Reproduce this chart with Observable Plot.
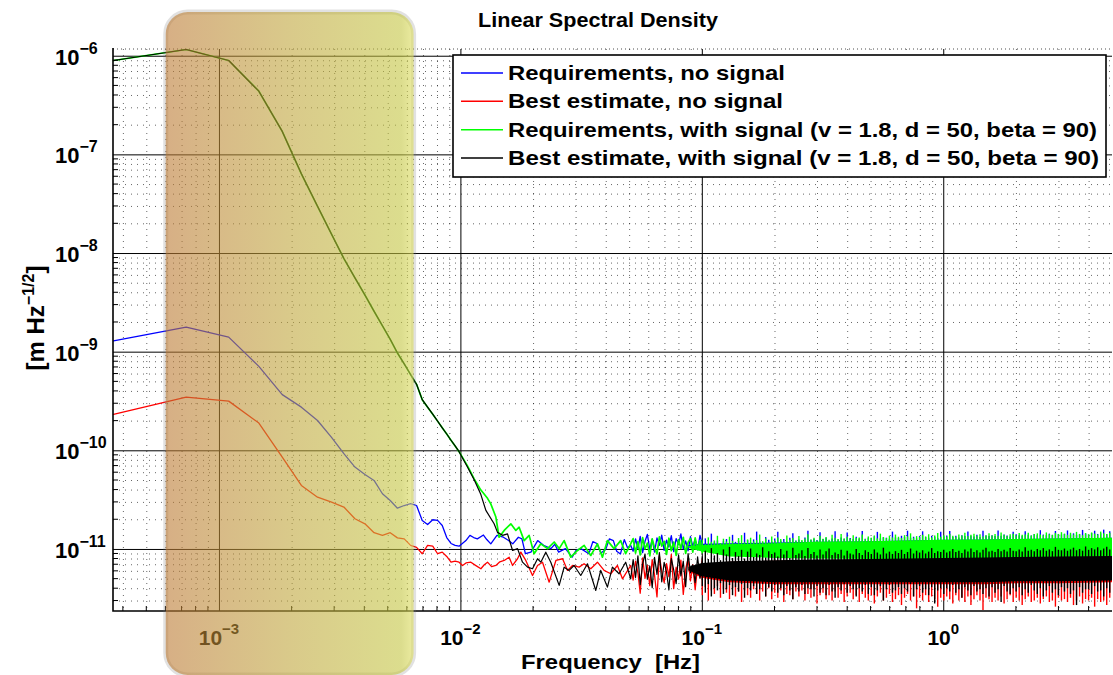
<!DOCTYPE html>
<html>
<head>
<meta charset="utf-8">
<script src="https://cdn.jsdelivr.net/npm/d3@7"></script>
<script src="https://cdn.jsdelivr.net/npm/@observablehq/plot@0.6"></script>
<style>
  html, body { margin: 0; padding: 0; background: #fff; }
  #chart svg { display: block; }
</style>
</head>
<body>
<div id="chart"></div>
<script>
const FONT = "'Liberation Sans', Arial, Helvetica, sans-serif";
const PM = 1e-12; // spectral values below are given in units of 1e-12 m Hz^-1/2

// Series names and colours
const seriesNames = [
  "Requirements, no signal",
  "Best estimate, no signal",
  "Requirements, with signal (v = 1.8, d = 50, beta = 90)",
  "Best estimate, with signal (v = 1.8, d = 50, beta = 90)"
];
const seriesColors = ["#0000ff", "#ff0000", "#00ff00", "#000000"];

// Axis tick decades
const xDecades = [-3, -2, -1, 0];
const yDecades = [-11, -10, -9, -8, -7, -6];

// Highlighted frequency band (Hz)
const shadeBand = {from: 6.02e-4, to: 6.4e-3};

// Lowest FFT bins (Hz)
const binHz = [0.000364, 0.000728, 0.001092, 0.001456, 0.00182, 0.002184, 0.002548, 0.002912, 0.003276,
  0.00364, 0.004004, 0.004368, 0.004732, 0.005096, 0.00546, 0.005824, 0.006188, 0.006552, 0.006916,
  0.00728, 0.007644, 0.008008, 0.008372, 0.008736, 0.0091, 0.009464, 0.009828];

// Low-frequency values on those bins
const reqNoSigLow = [1300, 1790, 1420, 718, 371, 277, 203, 137, 93.5, 68.4, 57.6, 50.1, 36.7, 31.4, 26.2,
  27.9, 29.1, 27.9, 19.7, 17.9, 20.0, 19.7, 17.5, 13.2, 11.5, 11.0, 10.8];
const bestNoSigLow = [234, 350, 319, 191, 86.1, 44.6, 33.9, 30.2, 26.9, 20.5, 18.2, 14.8, 13.9, 14.8, 13.1,
  12.8, 11.0, 10.5, 9.05, 11.0, 10.8, 9.05, 9.4, 8.5, 7.43, 7.6, 7.43];
const withSigLow = [905000, 1170000, 905000, 442000, 173000, 64300, 30100, 15700, 8890, 5670, 3800, 2600,
  1850, 1350, 980, 760, 593, 472, 330, 277, 235, 200, 171, 148, 128, 112, 98];

// 0.01 – 0.05 Hz: [Hz, value]
const reqNoSigMid = [[0.01049, 12.3], [0.0109, 13.9], [0.0113, 13.2], [0.0117, 12.8], [0.0124, 14.0],
  [0.0128, 12.6], [0.0133, 11.4], [0.0141, 13.9], [0.0150, 13.3], [0.0157, 12.4], [0.0164, 11.4],
  [0.0173, 13.3], [0.0179, 12.8], [0.0185, 9.05], [0.0195, 9.4], [0.0208, 12.3], [0.0220, 11.0],
  [0.0236, 10.2], [0.0245, 11.3], [0.0254, 9.4], [0.0271, 10.2], [0.0289, 8.35], [0.0300, 9.8],
  [0.0314, 10.2], [0.0339, 9.05], [0.0352, 12.0], [0.0366, 11.5], [0.0380, 9.2], [0.0398, 10.0],
  [0.0412, 12.8], [0.0428, 12.3], [0.0442, 9.6], [0.0458, 9.0], [0.0475, 12.6], [0.0490, 10.4], [0.0505, 11.0]];
const bestNoSigMid = [[0.01016, 6.88], [0.0105, 7.3], [0.0110, 7.43], [0.0115, 6.9], [0.0121, 6.37],
  [0.0125, 7.0], [0.01289, 7.43], [0.0134, 6.7], [0.01396, 6.88], [0.0145, 7.5], [0.01511, 7.74],
  [0.01584, 8.35], [0.01637, 6.88], [0.01716, 8.05], [0.01771, 9.39], [0.01857, 7.74], [0.0198, 5.45],
  [0.02077, 6.88], [0.02178, 7.43], [0.02321, 4.66], [0.02475, 7.74], [0.02637, 8.05], [0.02765, 6.13],
  [0.02899, 6.88], [0.03088, 6.62], [0.03238, 7.16], [0.03451, 6.37], [0.03678, 7.43], [0.03919, 6.13],
  [0.04176, 5.67], [0.0445, 6.88], [0.04668, 5.04], [0.0505, 6.88]];
const reqSigMid = [[0.01066, 70], [0.01135, 52], [0.0121, 40], [0.01289, 33], [0.0133, 29], [0.01396, 21.3],
  [0.0144, 13.3], [0.01511, 15.6], [0.0161, 18.2], [0.01689, 15.6], [0.01743, 16.8], [0.01828, 12.3],
  [0.01917, 13.9], [0.0201, 9.05], [0.02143, 11.4], [0.02285, 10.2], [0.02435, 11.9], [0.02553, 10.2],
  [0.02677, 12.3], [0.02852, 8.35], [0.03041, 9.77], [0.0324, 11.0], [0.03451, 8.69], [0.03678, 11.4],
  [0.03857, 8.35], [0.04045, 12.3], [0.0431, 10.2], [0.0459, 12.3], [0.04814, 9.05], [0.0505, 11.4]];
const bestSigMid = [[0.01066, 68], [0.01135, 51], [0.0121, 36], [0.01269, 24.9], [0.01373, 18.2],
  [0.01418, 14.9], [0.01488, 13.9], [0.0156, 14.4], [0.01637, 9.77], [0.01716, 10.2], [0.018, 7.43],
  [0.01888, 6.62], [0.0198, 6.37], [0.02077, 8.05], [0.02143, 7.43], [0.02247, 9.39], [0.02357, 7.43],
  [0.02553, 4.32], [0.02677, 6.62], [0.02807, 6.13], [0.02943, 6.88], [0.03137, 5.45], [0.03344, 7.16],
  [0.0362, 3.84], [0.03795, 6.13], [0.04045, 4.15], [0.04242, 6.62], [0.0452, 5.67], [0.04814, 7.43], [0.0505, 5.04]];

// 0.05 – 0.1 Hz: fast wiggles, one value per listed frequency
const wiggleHz = [0.0517, 0.0529, 0.0541, 0.0553, 0.0566, 0.0579, 0.0592, 0.0606, 0.062, 0.0634,
  0.0649, 0.0664, 0.0679, 0.0695, 0.0711, 0.0727, 0.0744, 0.0761, 0.0779, 0.0797,
  0.0815, 0.0834, 0.0853, 0.0873, 0.0893, 0.0913, 0.0934, 0.0956, 0.0978, 0.1];
const reqNoSigWiggle = [9.6, 12.8, 10.2, 13.6, 9.3, 12.1, 14.2, 10.0, 12.7, 9.4, 13.1, 11.0, 14.0, 9.8, 12.4,
  10.6, 13.8, 9.5, 12.9, 11.2, 14.4, 10.1, 12.2, 9.7, 13.5, 10.8, 12.6, 9.9, 13.9, 11.3];
const bestNoSigWiggle = [4.9, 7.6, 5.8, 3.6, 8.2, 5.1, 6.9, 4.3, 7.9, 5.5, 3.3, 8.6, 6.0, 4.6, 7.2,
  5.3, 8.9, 4.0, 6.6, 5.0, 7.8, 3.5, 6.3, 8.1, 4.8, 7.0, 3.9, 6.7, 5.2, 8.0];
const reqSigWiggle = [12.9, 9.2, 12.0, 8.8, 13.2, 10.1, 11.6, 8.6, 12.8, 10.4, 9.0, 13.4, 10.8, 12.1, 8.9,
  13.0, 9.7, 11.9, 8.7, 12.6, 10.2, 13.3, 9.1, 11.8, 12.9, 9.4, 13.1, 10.0, 12.3, 9.3];
const bestSigWiggle = [7.9, 5.2, 8.6, 4.4, 7.1, 9.0, 5.0, 6.8, 4.1, 8.3, 5.6, 9.3, 4.7, 7.4, 5.9,
  3.9, 8.1, 6.2, 4.5, 8.8, 5.4, 7.6, 4.2, 9.1, 5.8, 7.0, 4.6, 8.4, 5.1, 7.7];

// Above ~0.09 Hz the spectra are dense: a solid core band per series ...
const coreHz = [0.088, 0.1, 0.13, 0.2, 0.3, 0.5, 0.7, 1, 1.5, 2, 3, 5];
const reqNoSigCoreLo = [10.6, 9.8, 9.2, 9.0, 9.0, 9.0, 9.0, 9.2, 9.3, 9.4, 9.5, 9.6];
const reqNoSigCoreHi = [11.0, 11.3, 11.4, 11.6, 11.8, 12.0, 12.2, 12.4, 12.5, 12.6, 12.8, 13.0];
const bestNoSigCoreLo = [5.9, 5.1, 4.6, 4.4, 4.4, 4.4, 4.4, 4.4, 4.4, 4.5, 4.5, 4.6];
const bestNoSigCoreHi = [6.3, 7.0, 7.4, 7.6, 7.7, 7.8, 7.9, 8.0, 8.1, 8.2, 8.3, 8.4];
const reqSigCoreLo = [10.2, 9.4, 8.4, 8.1, 8.0, 7.9, 7.8, 7.8, 7.8, 7.8, 7.9, 8.0];
const reqSigCoreHi = [10.7, 11.0, 11.2, 11.4, 11.8, 12.0, 12.2, 12.4, 12.5, 12.6, 12.8, 13.0];
const bestSigCoreLo = [6.1, 5.3, 4.8, 4.6, 4.6, 4.6, 4.6, 4.6, 4.6, 4.7, 4.7, 4.8];
const bestSigCoreHi = [6.6, 7.2, 7.5, 7.7, 7.8, 7.9, 8.0, 8.1, 8.2, 8.3, 8.4, 8.5];

// ... plus the spike extremes sticking out of it (80 samples per decade, 0.1 – 4.87 Hz)
const denseHz = [
  0.1, 0.1029, 0.1059, 0.109, 0.1122, 0.1155, 0.1189, 0.1223,
  0.1259, 0.1296, 0.1334, 0.1372, 0.1413, 0.1454, 0.1496, 0.154,
  0.1585, 0.1631, 0.1679, 0.1728, 0.1778, 0.183, 0.1884, 0.1939,
  0.1995, 0.2054, 0.2113, 0.2175, 0.2239, 0.2304, 0.2371, 0.2441,
  0.2512, 0.2585, 0.2661, 0.2738, 0.2818, 0.2901, 0.2985, 0.3073,
  0.3162, 0.3255, 0.335, 0.3447, 0.3548, 0.3652, 0.3758, 0.3868,
  0.3981, 0.4097, 0.4217, 0.434, 0.4467, 0.4597, 0.4732, 0.487,
  0.5012, 0.5158, 0.5309, 0.5464, 0.5623, 0.5788, 0.5957, 0.6131,
  0.631, 0.6494, 0.6683, 0.6879, 0.7079, 0.7286, 0.7499, 0.7718,
  0.7943, 0.8175, 0.8414, 0.866, 0.8913, 0.9173, 0.9441, 0.9716,
  1.0, 1.029, 1.059, 1.09, 1.122, 1.155, 1.189, 1.223,
  1.259, 1.296, 1.334, 1.372, 1.413, 1.454, 1.496, 1.54,
  1.585, 1.631, 1.679, 1.728, 1.778, 1.83, 1.884, 1.939,
  1.995, 2.054, 2.113, 2.175, 2.239, 2.304, 2.371, 2.441,
  2.512, 2.585, 2.661, 2.738, 2.818, 2.901, 2.985, 3.073,
  3.162, 3.255, 3.35, 3.447, 3.548, 3.652, 3.758, 3.868,
  3.981, 4.097, 4.217, 4.34, 4.467, 4.597, 4.732, 4.87];
const reqNoSigPeaks = [
  11.5, 12.8, 11.0, 14.3, 11.9, 12.2, 11.4, 12.0,
  12.6, 11.3, 13.9, 11.8, 12.1, 11.5, 14.6, 12.3,
  11.7, 12.5, 15.0, 12.0, 11.6, 13.2, 12.4, 11.9,
  12.8, 14.9, 12.1, 12.6, 11.9, 13.0, 14.4, 12.2,
  12.5, 12.0, 13.1, 15.3, 12.4, 12.7, 12.3, 14.8,
  12.6, 13.0, 12.2, 12.8, 15.1, 12.5, 13.1, 12.7,
  14.7, 12.9, 12.6, 13.3, 12.8, 15.2, 12.7, 13.0,
  12.9, 13.4, 14.9, 12.8, 13.1, 13.0, 12.7, 15.0,
  13.1, 12.9, 13.6, 13.2, 15.3, 13.0, 13.3, 12.8,
  13.5, 15.1, 13.2, 13.0, 13.6, 13.3, 12.9, 14.9,
  13.4, 13.7, 15.2, 13.3, 13.6, 13.1, 13.8, 13.5,
  15.0, 13.6, 13.4, 13.9, 13.2, 15.3, 13.7, 13.5,
  13.8, 13.5, 15.4, 13.6, 14.0, 13.7, 13.4, 14.9,
  14.1, 13.8, 13.6, 15.1, 13.9, 13.7, 14.2, 13.8,
  15.5, 14.0, 13.8, 14.3, 13.9, 15.2, 14.1, 14.0,
  14.2, 15.4, 14.0, 14.4, 13.9, 14.1, 15.6, 14.3,
  14.0, 14.5, 15.3, 14.2, 14.4, 15.7, 14.1, 15.1];
const reqSigPeaks = [
  12.4, 11.2, 13.1, 11.8, 12.2, 13.6, 11.5, 12.7,
  11.9, 13.3, 12.1, 11.4, 12.9, 13.8, 11.7, 12.5,
  13.0, 11.9, 12.3, 14.0, 12.0, 12.8, 11.6, 13.4,
  12.2, 13.1, 12.6, 11.8, 13.7, 12.4, 12.9, 12.1,
  13.5, 12.3, 12.8, 14.1, 12.5, 13.0, 12.2, 13.6,
  12.7, 13.2, 12.4, 13.9, 12.9, 12.6, 14.2, 12.8,
  13.3, 12.7, 13.8, 12.9, 13.1, 14.0, 12.6, 13.4,
  13.0, 13.7, 12.8, 14.3, 13.2, 12.9, 13.6, 13.1,
  14.0, 13.3, 12.9, 13.8, 13.4, 14.4, 13.0, 13.5,
  13.2, 13.9, 13.4, 14.1, 13.1, 13.7, 14.5, 13.3,
  13.8, 13.4, 14.2, 13.6, 13.3, 14.0, 13.7, 14.6,
  13.5, 13.9, 14.3, 13.6, 14.1, 13.4, 13.8, 14.4,
  13.7, 14.2, 13.6, 14.7, 13.9, 13.5, 14.1, 14.3,
  13.8, 14.5, 13.9, 14.0, 14.6, 13.7, 14.2, 14.4,
  14.0, 13.8, 14.7, 14.1, 13.9, 14.5, 14.2, 14.8,
  14.3, 13.9, 14.6, 14.0, 14.9, 14.2, 13.8, 14.5,
  14.1, 14.7, 14.3, 14.0, 15.0, 14.4, 14.2, 14.6];
const bestSigPeaks = [
  8.4, 9.6, 7.9, 10.2, 8.6, 9.1, 7.7, 9.9,
  8.8, 10.5, 8.1, 9.3, 8.5, 9.8, 8.0, 9.4,
  10.1, 8.3, 9.0, 8.7, 10.4, 8.2, 9.5, 8.9,
  9.2, 8.4, 10.0, 8.8, 9.6, 8.1, 10.3, 8.7,
  9.0, 9.7, 8.5, 10.2, 8.9, 9.3, 8.6, 9.9,
  8.8, 9.5, 10.1, 8.7, 9.2, 8.9, 9.8, 8.6,
  9.6, 9.0, 8.8, 10.0, 9.1, 8.7, 9.7, 9.3,
  8.9, 9.9, 9.2, 8.8, 10.3, 9.0, 9.4, 8.9,
  9.5, 9.1, 9.8, 8.9, 9.3, 10.1, 9.0, 9.6,
  9.2, 9.7, 9.0, 9.4, 10.2, 9.1, 9.5, 9.3,
  9.8, 9.2, 9.5, 10.0, 9.3, 9.6, 9.1, 9.9,
  9.4, 10.1, 9.3, 9.7, 9.2, 9.8, 10.3, 9.4,
  9.6, 9.3, 10.0, 9.5, 9.8, 9.4, 10.2, 9.6,
  9.5, 9.9, 9.4, 10.4, 9.6, 9.8, 9.5, 10.0,
  9.7, 10.2, 9.6, 9.9, 9.5, 10.5, 9.8, 9.7,
  10.1, 9.6, 9.9, 10.3, 9.7, 10.0, 9.6, 10.6,
  9.8, 10.2, 9.9, 10.4, 9.7, 10.1, 10.5, 9.9];
const bestSigDips = [
  4.2, 3.6, 4.4, 3.3, 4.0, 3.8, 4.5, 3.5,
  3.9, 4.3, 3.4, 4.1, 3.7, 4.4, 3.2, 4.0,
  3.8, 4.2, 3.5, 3.9, 4.4, 3.3, 4.1, 3.7,
  4.3, 3.6, 4.0, 3.4, 4.2, 3.8, 3.1, 4.1,
  3.7, 4.3, 3.5, 4.0, 3.9, 3.3, 4.2, 3.6,
  4.0, 3.4, 4.3, 3.7, 3.2, 4.1, 3.8, 4.4,
  3.6, 4.2, 3.9, 3.3, 4.0, 3.7, 4.3, 3.5,
  4.1, 3.4, 3.8, 4.2, 3.0, 3.9, 4.3, 3.6,
  3.8, 4.1, 3.5, 4.0, 3.7, 4.4, 3.3, 3.9,
  4.2, 3.6, 3.9, 3.4, 4.1, 2.8, 3.8, 4.0,
  3.5, 4.0, 3.7, 4.3, 3.6, 3.9, 3.2, 4.1,
  3.8, 3.4, 4.2, 3.7, 3.9, 3.5, 4.0, 3.3,
  4.1, 3.6, 3.9, 2.9, 4.2, 3.7, 3.5, 4.0,
  3.7, 4.1, 3.4, 3.9, 3.6, 4.3, 3.8, 3.5,
  4.0, 3.3, 3.8, 4.2, 3.6, 3.9, 3.4, 4.1,
  3.7, 4.0, 3.5, 3.8, 2.7, 4.1, 3.6, 3.9,
  3.9, 3.5, 4.2, 3.7, 3.8, 3.3, 4.0, 3.6];
const bestNoSigDips = [
  3.4, 4.1, 3.0, 3.8, 3.5, 4.2, 3.2, 3.9,
  3.6, 3.1, 4.0, 3.3, 3.7, 2.9, 3.8, 3.4,
  3.2, 3.9, 3.5, 3.0, 3.7, 3.3, 4.0, 3.1,
  3.6, 3.2, 3.8, 2.9, 3.5, 3.4, 3.1, 3.7,
  3.3, 3.8, 3.0, 3.5, 3.2, 3.9, 2.8, 3.4,
  3.6, 3.1, 3.4, 3.0, 3.7, 3.2, 3.5, 2.9,
  3.3, 3.6, 3.1, 3.4, 2.9, 3.5, 3.2, 3.0,
  3.4, 2.8, 3.3, 3.6, 3.0, 3.2, 3.5, 2.9,
  3.1, 3.4, 2.7, 3.2, 3.5, 3.0, 3.3, 2.5,
  3.2, 3.0, 3.4, 2.9, 3.3, 3.1, 2.6, 3.2,
  3.0, 3.3, 3.1, 2.8, 3.4, 3.0, 3.2, 2.9,
  3.3, 2.7, 3.1, 3.4, 3.0, 2.4, 3.2, 3.1,
  2.9, 3.2, 3.0, 3.3, 2.8, 3.1, 3.4, 2.9,
  3.2, 3.0, 2.7, 3.1, 3.3, 2.9, 3.0, 3.2,
  2.8, 3.1, 3.3, 2.9, 3.0, 2.6, 3.2, 3.0,
  3.1, 2.9, 3.2, 2.7, 3.0, 3.3, 2.8, 3.1,
  3.0, 3.2, 2.6, 3.1, 2.9, 3.0, 2.7, 3.2];

// ---------- table building ----------
const lineRows = (low, mid, wiggle) => [
  ...binHz.map((f, i) => ({f, v: low[i] * PM})),
  ...mid.map(([f, v]) => ({f, v: v * PM})),
  ...wiggleHz.map((f, i) => ({f, v: wiggle[i] * PM}))
];
const coreRows = (lo, hi) => coreHz.map((f, i) => ({f, lo: lo[i] * PM, hi: hi[i] * PM}));
const spikeRows = (tips, base) => denseHz.map((f, i) => ({f, tip: tips[i] * PM, base: base * PM}));

const series = [
  {color: seriesColors[0], width: 1.3, line: lineRows(reqNoSigLow, reqNoSigMid, reqNoSigWiggle),
   core: coreRows(reqNoSigCoreLo, reqNoSigCoreHi), spikes: [spikeRows(reqNoSigPeaks, 10.6)]},
  {color: seriesColors[1], width: 1.3, line: lineRows(bestNoSigLow, bestNoSigMid, bestNoSigWiggle),
   core: coreRows(bestNoSigCoreLo, bestNoSigCoreHi), spikes: [spikeRows(bestNoSigDips, 5.8)]},
  {color: seriesColors[2], width: 1.7, line: lineRows(withSigLow, reqSigMid, reqSigWiggle),
   core: coreRows(reqSigCoreLo, reqSigCoreHi), spikes: [spikeRows(reqSigPeaks, 10.4)]},
  {color: seriesColors[3], width: 1.2, line: lineRows(withSigLow, bestSigMid, bestSigWiggle),
   core: coreRows(bestSigCoreLo, bestSigCoreHi), spikes: [spikeRows(bestSigPeaks, 6.4), spikeRows(bestSigDips, 6.4)]}
];

const xDomain = [0.000364, 5];
const yDomain = [2.35e-12, 1.17e-6];

// minor grid values (2..9 × decade) inside the domains
const minors = (e0, e1, dom) => {
  const out = [];
  for (let e = e0; e <= e1; e++) for (let m = 2; m <= 9; m++) {
    const v = m * Math.pow(10, e);
    if (v > dom[0] * 1.0001 && v < dom[1] * 0.9999) out.push(v);
  }
  return out;
};
const xMinor = minors(-4, 0, xDomain);
const yMinor = minors(-12, -7, yDomain);
const xMajor = xDecades.map(e => Math.pow(10, e));
const yMajor = yDecades.map(e => Math.pow(10, e));

const sup = e => (e < 0 ? "\u2212" + Math.abs(e) : String(e));

// ---------- render helpers ----------
function defs() {
  const d = d3.create("svg:defs");
  const g = d.append("linearGradient").attr("id", "shadeGrad")
    .attr("x1", 0).attr("x2", 1).attr("y1", 0).attr("y2", 0);
  g.append("stop").attr("offset", "0").attr("stop-color", "rgb(188,122,52)");
  g.append("stop").attr("offset", "0.5").attr("stop-color", "rgb(192,166,60)");
  g.append("stop").attr("offset", "0.95").attr("stop-color", "rgb(196,198,66)");
  g.append("stop").attr("offset", "1").attr("stop-color", "rgb(222,222,96)");
  const f = d.append("filter").attr("id", "haloBlur")
    .attr("x", "-20%").attr("y", "-20%").attr("width", "140%").attr("height", "140%");
  f.append("feGaussianBlur").attr("stdDeviation", 4);
  return d.node();
}

function axesDecor(index, {x, y}, values, dims) {
  const L = dims.marginLeft, R = dims.width - dims.marginRight;
  const T = dims.marginTop, B = dims.height - dims.marginBottom;
  const g = d3.create("svg:g");
  const t = g.append("g").attr("stroke", "#000").attr("stroke-width", 1);
  for (const v of xMinor) t.append("line").attr("x1", x(v)).attr("x2", x(v)).attr("y1", B).attr("y2", B - 5);
  for (const v of yMinor) t.append("line").attr("x1", L).attr("x2", L + 5).attr("y1", y(v)).attr("y2", y(v));
  t.append("line").attr("x1", L).attr("x2", R).attr("y1", T).attr("y2", T)
    .attr("stroke-dasharray", "1,3").attr("stroke-opacity", 0.7);
  t.append("path").attr("fill", "none").attr("stroke-width", 1.6).attr("d", `M${L},${T - 1}V${B}H${R}`);

  const lab = g.append("g").attr("font-family", FONT).attr("font-weight", "bold").attr("fill", "#000");
  for (const e of xDecades) {
    const tx = lab.append("text").attr("x", x(Math.pow(10, e))).attr("y", B + 34)
      .attr("text-anchor", "middle").attr("font-size", 21);
    tx.append("tspan").text("10");
    tx.append("tspan").attr("dy", -11).attr("font-size", 15).text(sup(e));
  }
  for (const e of yDecades) {
    const ty = lab.append("text").attr("x", 55).attr("y", y(Math.pow(10, e)) + 9)
      .attr("text-anchor", "start").attr("font-size", 22);
    ty.append("tspan").text("10");
    ty.append("tspan").attr("dy", -11).attr("font-size", 16).text(sup(e));
  }
  return g.node();
}

function annotations(index, scales, values, dims) {
  const g = d3.create("svg:g").attr("font-family", FONT).attr("font-weight", "bold").attr("fill", "#000");
  g.append("text").attr("x", 598).attr("y", 27).attr("text-anchor", "middle").attr("font-size", 20.5)
    .attr("textLength", 240).attr("lengthAdjust", "spacingAndGlyphs").text("Linear Spectral Density");
  g.append("text").attr("x", 610.5).attr("y", 669).attr("text-anchor", "middle").attr("font-size", 20.5)
    .style("white-space", "pre").attr("textLength", 179).attr("lengthAdjust", "spacingAndGlyphs")
    .text("Frequency  [Hz]");
  const yl = g.append("text").attr("transform", "translate(44,318) rotate(-90)")
    .attr("text-anchor", "middle").attr("font-size", 24);
  yl.append("tspan").text("[m Hz");
  yl.append("tspan").attr("dy", -10).attr("font-size", 16).text("\u22121/2");
  yl.append("tspan").attr("dy", 10).text("]");

  // legend
  const bx = 453, by = 55, bw = 653, bh = 122;
  const widths = [277, 275, 589, 591];
  g.append("rect").attr("x", bx).attr("y", by).attr("width", bw).attr("height", bh)
    .attr("fill", "#fff").attr("stroke", "#000").attr("stroke-width", 1.6);
  seriesNames.forEach((name, i) => {
    const base = by + 25 + i * 28.35;
    g.append("line").attr("x1", bx + 8).attr("x2", bx + 50).attr("y1", base - 7).attr("y2", base - 7)
      .attr("stroke", seriesColors[i]).attr("stroke-width", 1.5);
    g.append("text").attr("x", bx + 55).attr("y", base).attr("text-anchor", "start").attr("font-size", 21)
      .attr("textLength", widths[i]).attr("lengthAdjust", "spacingAndGlyphs").text(name);
  });
  return g.node();
}

// ---------- marks ----------
const marks = [
  defs,
  Plot.ruleX(xMinor, {stroke: "#000", strokeOpacity: 0.6, strokeDasharray: "1,5"}),
  Plot.ruleY(yMinor, {stroke: "#000", strokeOpacity: 0.6, strokeDasharray: "1,5"}),
  Plot.ruleX(xMajor, {stroke: "#000", strokeWidth: 1}),
  Plot.ruleY(yMajor, {stroke: "#000", strokeWidth: 1})
];
for (const s of series) {
  marks.push(Plot.line(s.line, {x: "f", y: "v", stroke: s.color, strokeWidth: s.width}));
  marks.push(Plot.areaY(s.core, {x: "f", y1: "lo", y2: "hi", fill: s.color}));
  for (const sp of s.spikes)
    marks.push(Plot.ruleX(sp, {x: "f", y1: "tip", y2: "base", stroke: s.color, strokeWidth: 1.4}));
}
marks.push(axesDecor);
marks.push(Plot.rect([shadeBand], {x1: "from", x2: "to", insetTop: -37, insetBottom: -64, rx: 22,
  fill: "none", stroke: "#777", strokeWidth: 5, strokeOpacity: 0.22, ariaLabel: "shade-halo"}));
marks.push(Plot.rect([shadeBand], {x1: "from", x2: "to", insetTop: -37, insetBottom: -64, rx: 22,
  fill: "url(#shadeGrad)", fillOpacity: 0.6}));
marks.push(annotations);

const chart = Plot.plot({
  width: 1113,
  height: 675,
  marginLeft: 113,
  marginRight: 1,
  marginTop: 49,
  marginBottom: 64,
  x: {type: "log", domain: xDomain, axis: null},
  y: {type: "log", domain: yDomain, axis: null},
  style: {background: "#fff", overflow: "visible"},
  marks
});
const halo = chart.querySelector('g[aria-label="shade-halo"]');
if (halo) halo.setAttribute("filter", "url(#haloBlur)");
document.getElementById("chart").appendChild(chart);
</script>
</body>
</html>
